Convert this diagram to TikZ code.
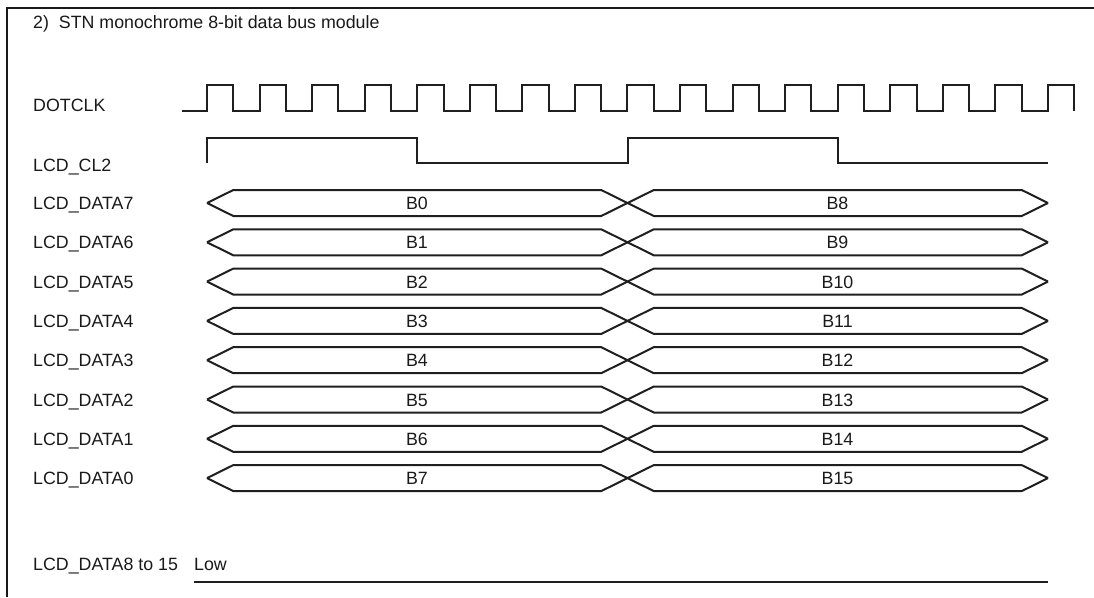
\documentclass[tikz,border=0pt]{standalone}
\usepackage{fontspec}
\setmainfont{Liberation Sans}
\tikzset{
  wave/.style={line width=2pt, draw=black!88},
  lbl/.style={font=\fontsize{17.8}{20}\selectfont, text=black!90, inner sep=0pt, anchor=base west},
  buslbl/.style={lbl, anchor=base},
}
\begin{document}
\begin{tikzpicture}[x=1pt, y=-1pt]
  \useasboundingbox (0,0) rectangle (1094,597);
  % Frame, cut off at the right and bottom
  \draw[line width=2.2pt, black!90] (7,597) -- (7,8) -- (1094,8);
  % Title
  \node[lbl] (title) at (33,28.5) {2)\ \ STN monochrome 8-bit data bus module};
  % DOTCLK
  \node[lbl] (dotclk) at (33,111) {DOTCLK};
  \draw[wave] (182,111) foreach \k in {0,...,16} {
    -- ({207+\k*52.56},111) -- ++(0,-26) -- ++(26.28,0) -- ++(0,26)};
  % LCD_CL2
  \node[lbl] (cltwo) at (33,171) {LCD\_CL2};
  \draw[wave] (207,163) -- (207,138) -- (417,138) -- (417,163) -- (627.5,163)
    -- (627.5,138) -- (837.5,138) -- (837.5,163) -- (1048,163);
  % Data bus rows
  \foreach \i in {0,...,7} {
    \pgfmathsetmacro{\yc}{203+39.3*\i}
    \pgfmathtruncatemacro{\bit}{7-\i}
    \pgfmathtruncatemacro{\hib}{\i+8}
    \node[lbl] (data\bit) at (33,\yc+6.5) {LCD\_DATA\bit};
    \draw[wave] (207,\yc) -- (233.3,\yc-13) -- (601.2,\yc-13) -- (653.8,\yc+13)
      -- (1021.7,\yc+13) -- (1048,\yc);
    \draw[wave] (207,\yc) -- (233.3,\yc+13) -- (601.2,\yc+13) -- (653.8,\yc-13)
      -- (1021.7,\yc-13) -- (1048,\yc);
    \node[buslbl] (lo\i) at (417,\yc+6.5) {B\i};
    \node[buslbl] (hi\i) at (837.5,\yc+6.5) {B\hib};
  }
  % LCD_DATA8 to 15 held low
  \node[lbl] (datahigh) at (33,570) {LCD\_DATA8 to 15};
  \node[lbl] (low) at (194,570) {Low};
  \draw[wave] (194,582) -- (1048,582);
\end{tikzpicture}
\end{document}
